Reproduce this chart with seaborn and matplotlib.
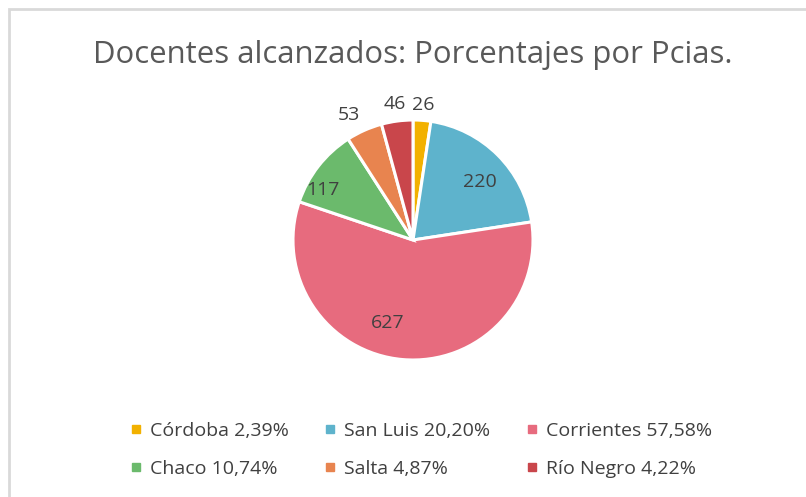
import matplotlib.pyplot as plt
import seaborn as sns
from matplotlib.lines import Line2D
from matplotlib.patches import Rectangle
import numpy as np

provincias = ["Córdoba", "San Luis", "Corrientes", "Chaco", "Salta", "Río Negro"]
docentes = [26, 220, 627, 117, 53, 46]
porcentajes = ["2,39%", "20,20%", "57,58%", "10,74%", "4,87%", "4,22%"]
colores = ["#F2B100", "#5EB3CC", "#E76B7E", "#6BBA6C", "#E8844F", "#C9464B"]

sns.set_theme(style="white")
plt.rcParams["font.family"] = ["Open Sans", "DejaVu Sans"]

TEXT = "#404040"
TITLE = "#595959"

fig = plt.figure(figsize=(8.06, 4.97), dpi=100)
ax = fig.add_axes([293 / 806, (497 - 360) / 497, 240 / 806, 240 / 497])

wedges, _ = ax.pie(
    docentes,
    colors=sns.color_palette(colores),
    startangle=90,
    counterclock=False,
    wedgeprops={"edgecolor": "white", "linewidth": 2.2},
)
ax.set_xlim(-1, 1)
ax.set_ylim(-1, 1)
ax.set_aspect("equal")
ax.axis("off")

# label distance from centre per slice (Excel "best fit" look)
label_r = [1.13, 0.74, 0.72, 0.86, 1.17, 1.14]
label_shift = [0, -4, -12, 9, 3, 0]  # degrees of angular nudge
for w, v, r, s in zip(wedges, docentes, label_r, label_shift):
    ang = np.deg2rad((w.theta1 + w.theta2) / 2 + s)
    ax.text(r * np.cos(ang), r * np.sin(ang), str(v), ha="center", va="center",
            fontsize=14, color=TEXT)

fig.text(0.512, 0.89, "Docentes alcanzados: Porcentajes por Pcias.",
         ha="center", va="center", fontsize=22.4, color=TITLE)

handles = [Line2D([], [], marker="s", linestyle="none", markersize=6,
                  markerfacecolor=c, markeredgecolor=c) for c in colores]
labels = [f"{p} {q}" for p, q in zip(provincias, porcentajes)]
order = [0, 3, 1, 4, 2, 5]
leg = fig.legend([handles[i] for i in order], [labels[i] for i in order],
                 loc="center", bbox_to_anchor=(0.523, 0.095), ncol=3,
                 frameon=False, fontsize=14, handlelength=0.5, handletextpad=0.45,
                 columnspacing=1.9, labelspacing=1.0)
for t in leg.get_texts():
    t.set_color(TEXT)

fig.add_artist(Rectangle((9 / 806, -0.5), 2, 0.5 + (497 - 9) / 497,
                         transform=fig.transFigure, fill=False,
                         edgecolor="#D9D9D9", linewidth=2))

fig.savefig("out.png", dpi=100)
